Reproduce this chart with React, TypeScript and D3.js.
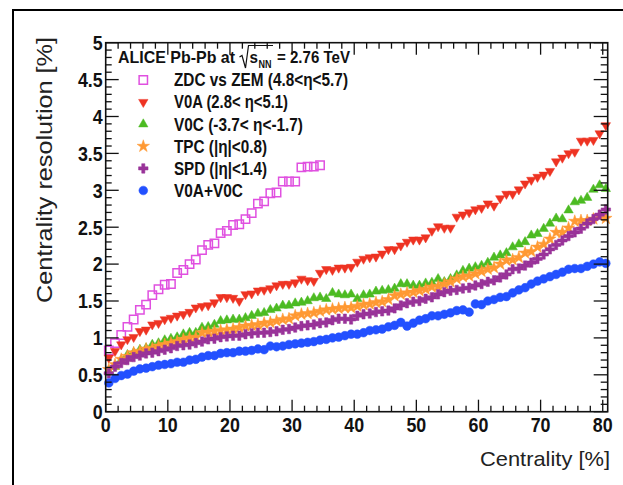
import React from "react";
import * as d3 from "d3";

// ---------------- data ----------------
const centrality: number[] = d3.range(0.5, 81, 1); // bin centres (%)

const zdcZemValues = [
  0.83, 0.93, 1.04, 1.15, 1.25, 1.38, 1.45, 1.58, 1.66, 1.72,
  1.73, 1.88, 1.92, 2.0, 2.06, 2.19, 2.26, 2.28, 2.42, 2.45,
  2.53, 2.54, 2.61, 2.69, 2.82, 2.85, 2.96, 2.97, 3.12, 3.12,
  3.12, 3.31, 3.32, 3.32, 3.34,
];

const v0aValues = [
  0.73, 0.82, 0.91, 0.98, 1.01, 1.09, 1.11, 1.18, 1.2, 1.25,
  1.27, 1.3, 1.32, 1.35, 1.41, 1.43, 1.44, 1.48, 1.55, 1.55,
  1.54, 1.5, 1.59, 1.6, 1.64, 1.65, 1.67, 1.71, 1.73, 1.73,
  1.75, 1.8, 1.78, 1.77, 1.88, 1.93, 1.92, 1.95, 1.95, 1.96,
  2.03, 2.07, 2.09, 2.1, 2.14, 2.2, 2.2, 2.25, 2.3, 2.33,
  2.33, 2.36, 2.45, 2.51, 2.49, 2.49, 2.64, 2.67, 2.7, 2.74,
  2.76, 2.82, 2.79, 2.89, 2.95, 2.95, 3.01, 3.09, 3.14, 3.18,
  3.21, 3.26, 3.39, 3.44, 3.5, 3.52, 3.67, 3.67, 3.68, 3.77,
  3.88,
];

const v0cValues = [
  0.55, 0.61, 0.7, 0.77, 0.8, 0.84, 0.86, 0.91, 0.93, 0.97,
  0.99, 1.01, 1.05, 1.07, 1.07, 1.14, 1.15, 1.18, 1.23, 1.24,
  1.25, 1.25, 1.27, 1.3, 1.33, 1.34, 1.38, 1.4, 1.44, 1.44,
  1.47, 1.48, 1.5, 1.54, 1.55, 1.53, 1.61, 1.59, 1.58, 1.59,
  1.53, 1.58, 1.59, 1.63, 1.64, 1.65, 1.67, 1.73, 1.73, 1.71,
  1.71, 1.74, 1.75, 1.8, 1.76, 1.8, 1.85, 1.91, 1.94, 1.96,
  1.98, 2.02, 2.09, 2.12, 2.15, 2.23, 2.27, 2.3, 2.39, 2.41,
  2.48, 2.55, 2.62, 2.61, 2.73, 2.84, 2.86, 2.9, 3.01, 3.07,
  3.02,
];

const tpcValues = [
  0.57, 0.64, 0.71, 0.75, 0.8, 0.82, 0.85, 0.86, 0.89, 0.91,
  0.93, 0.95, 0.98, 1.0, 1.01, 1.07, 1.08, 1.09, 1.1, 1.11,
  1.12, 1.14, 1.16, 1.17, 1.18, 1.2, 1.21, 1.23, 1.25, 1.26,
  1.3, 1.32, 1.33, 1.34, 1.36, 1.38, 1.39, 1.4, 1.41, 1.41,
  1.43, 1.45, 1.46, 1.48, 1.49, 1.52, 1.57, 1.59, 1.61, 1.62,
  1.64, 1.66, 1.69, 1.7, 1.73, 1.76, 1.8, 1.83, 1.84, 1.87,
  1.9, 1.93, 1.95, 2.0, 2.05, 2.06, 2.09, 2.15, 2.17, 2.23,
  2.27, 2.34, 2.43, 2.43, 2.49, 2.58, 2.59, 2.59, 2.61, 2.65,
  2.62,
];

const spdValues = [
  0.52, 0.61, 0.66, 0.7, 0.74, 0.76, 0.79, 0.8, 0.82, 0.84,
  0.86, 0.89, 0.9, 0.91, 0.93, 0.95, 0.98, 0.99, 1.01, 1.02,
  1.03, 1.03, 1.05, 1.06, 1.07, 1.07, 1.08, 1.09, 1.11, 1.12,
  1.14, 1.16, 1.17, 1.18, 1.2, 1.21, 1.24, 1.26, 1.26, 1.25,
  1.3, 1.32, 1.33, 1.35, 1.36, 1.37, 1.4, 1.44, 1.47, 1.49,
  1.5, 1.53, 1.55, 1.59, 1.62, 1.64, 1.65, 1.67, 1.68, 1.71,
  1.73, 1.76, 1.78, 1.82, 1.86, 1.93, 1.94, 1.98, 2.02, 2.07,
  2.13, 2.2, 2.26, 2.32, 2.38, 2.43, 2.48, 2.55, 2.61, 2.67,
  2.74,
];

const v0av0cValues = [
  0.39, 0.45, 0.49, 0.51, 0.55, 0.58, 0.59, 0.61, 0.63, 0.64,
  0.65, 0.67, 0.67, 0.7, 0.71, 0.74, 0.76, 0.76, 0.79, 0.8,
  0.8, 0.82, 0.82, 0.83, 0.85, 0.84, 0.89, 0.88, 0.89, 0.91,
  0.92, 0.93, 0.94, 0.95, 0.97, 0.98, 1.0, 1.01, 1.03, 1.05,
  1.05, 1.07, 1.1, 1.11, 1.12, 1.15, 1.17, 1.21, 1.16, 1.2,
  1.24, 1.26, 1.3, 1.3, 1.32, 1.34, 1.37, 1.38, 1.35, 1.46,
  1.45, 1.5, 1.52, 1.55, 1.56, 1.61, 1.65, 1.68, 1.73, 1.77,
  1.8, 1.83, 1.86, 1.89, 1.93, 1.94, 1.94, 1.97, 2.0, 2.03,
  2.01,
];

const xMajorTicks = [0, 10, 20, 30, 40, 50, 60, 70, 80];
const xTickLabels = ["0", "10", "20", "30", "40", "50", "60", "70", "80"];
const yMajorTicks = [0, 0.5, 1, 1.5, 2, 2.5, 3, 3.5, 4, 4.5, 5];
const yTickLabels = ["0", "0.5", "1", "1.5", "2", "2.5", "3", "3.5", "4", "4.5", "5"];

const legendLabels = [
  "ZDC vs ZEM (4.8<\u03b7<5.7)",
  "V0A (2.8< \u03b7<5.1)",
  "V0C (-3.7< \u03b7<-1.7)",
  "TPC (|\u03b7|<0.8)",
  "SPD (|\u03b7|<1.4)",
  "V0A+V0C",
];
const legendTextLengths = [174, 114, 129, 93, 93, 69];

const xTitle = "Centrality [%]";
const yTitle = "Centrality resolution [%]";

// ---------------- styling ----------------
const FONT = "'Liberation Sans', Arial, Helvetica, sans-serif";
const W = 623;
const H = 485;
const PL = 105.7;
const PR = 607.7;
const PT = 42.7;
const PB = 411.7;

type Series = {
  values: number[];
  color: string;
  symbol: d3.SymbolType;
  size: number;
  filled: boolean;
  rotate: number;
};

const series: Series[] = [
  { values: zdcZemValues, color: "#e050e0", symbol: d3.symbolSquare, size: 70, filled: false, rotate: 0 },
  { values: v0aValues, color: "#ee3322", symbol: d3.symbolTriangle, size: 38, filled: true, rotate: 180 },
  { values: v0cValues, color: "#4cbb22", symbol: d3.symbolTriangle, size: 38, filled: true, rotate: 0 },
  { values: tpcValues, color: "#ff9933", symbol: d3.symbolStar, size: 48, filled: true, rotate: 0 },
  { values: spdValues, color: "#993399", symbol: d3.symbolCross, size: 50, filled: true, rotate: 0 },
  { values: v0av0cValues, color: "#2250ff", symbol: d3.symbolCircle, size: 60, filled: true, rotate: 0 },
];

export default function App() {
  const x = d3.scaleLinear().domain([0, 80.8]).range([PL, PR]);
  const y = d3.scaleLinear().domain([0, 5]).range([PB, PT]);

  const xMinor = d3.range(0, 81, 2).filter((v) => v % 10 !== 0);
  const yMinor = d3.range(0, 51, 1).map((v) => v / 10).filter((v) => Math.round(v * 10) % 5 !== 0);

  const axisColor = "#111";
  const majL = 12;
  const minL = 6;

  const legendX = 143.3;
  const legendTextX = 174;
  const legendY0 = 80;
  const legendDy = 22.1;

  const sym = (s: Series) => d3.symbol().type(s.symbol).size(s.size)() as string;

  return (
    <svg
      width={W}
      height={H}
      viewBox={`0 0 ${W} ${H}`}
      style={{ position: "absolute", left: 0, top: 0, display: "block", background: "#fff" }}
    >
      <rect x={0} y={0} width={W} height={H} fill="#fff" />
      {/* outer frame */}
      <rect x={13} y={10} width={W + 50} height={H + 50} fill="none" stroke="#000" strokeWidth={2} />

      {/* data markers */}
      {series.map((s, si) => (
        <g key={si}>
          {s.values.map((v, i) => (
            <path
              key={i}
              d={sym(s)}
              transform={`translate(${x(centrality[i])},${y(v)}) rotate(${s.rotate})`}
              fill={s.filled ? s.color : "none"}
              stroke={s.color}
              strokeWidth={s.filled ? 0.5 : 1.5}
            />
          ))}
        </g>
      ))}

      {/* frame / axes */}
      <rect x={PL} y={PT} width={PR - PL} height={PB - PT} fill="none" stroke={axisColor} strokeWidth={1.6} />
      {xMajorTicks.map((t) => (
        <g key={"xm" + t}>
          <line x1={x(t)} x2={x(t)} y1={PB} y2={PB - majL} stroke={axisColor} strokeWidth={1.3} />
          <line x1={x(t)} x2={x(t)} y1={PT} y2={PT + majL} stroke={axisColor} strokeWidth={1.3} />
        </g>
      ))}
      {xMinor.map((t) => (
        <g key={"xn" + t}>
          <line x1={x(t)} x2={x(t)} y1={PB} y2={PB - minL} stroke={axisColor} strokeWidth={1.3} />
          <line x1={x(t)} x2={x(t)} y1={PT} y2={PT + minL} stroke={axisColor} strokeWidth={1.3} />
        </g>
      ))}
      {yMajorTicks.map((t) => (
        <g key={"ym" + t}>
          <line x1={PL} x2={PL + majL + 1} y1={y(t)} y2={y(t)} stroke={axisColor} strokeWidth={1.3} />
          <line x1={PR} x2={PR - majL - 2} y1={y(t)} y2={y(t)} stroke={axisColor} strokeWidth={1.3} />
        </g>
      ))}
      {yMinor.map((t) => (
        <g key={"yn" + t}>
          <line x1={PL} x2={PL + minL} y1={y(t)} y2={y(t)} stroke={axisColor} strokeWidth={1.3} />
          <line x1={PR} x2={PR - minL - 1} y1={y(t)} y2={y(t)} stroke={axisColor} strokeWidth={1.3} />
        </g>
      ))}

      {/* tick labels */}
      {xMajorTicks.map((t, i) => (
        <text
          key={"xl" + t}
          transform={`translate(${x(t)},${432}) scale(0.87,1)`}
          textAnchor="middle"
          fontFamily={FONT}
          fontWeight="bold"
          fontSize={20.5}
          fill="#111"
        >
          {xTickLabels[i]}
        </text>
      ))}
      {yMajorTicks.map((t, i) => (
        <text
          key={"yl" + t}
          transform={`translate(${102.7},${y(t) + 7.3}) scale(0.87,1)`}
          textAnchor="end"
          fontFamily={FONT}
          fontWeight="bold"
          fontSize={20.5}
          fill="#111"
        >
          {yTickLabels[i]}
        </text>
      ))}

      {/* axis titles */}
      <text
        x={610}
        y={465.5}
        textAnchor="end"
        fontFamily={FONT}
        fontSize={21}
        fill="#222"
        textLength={130}
        lengthAdjust="spacingAndGlyphs"
      >
        {xTitle}
      </text>
      <text
        transform={`translate(${52},${37}) rotate(-90)`}
        textAnchor="end"
        fontFamily={FONT}
        fontSize={22}
        fill="#222"
        textLength={266}
        lengthAdjust="spacingAndGlyphs"
      >
        {yTitle}
      </text>

      {/* header */}
      <g fontFamily={FONT} fontWeight="bold" fill="#111">
        <text x={118} y={62.7} fontSize={17} textLength={117} lengthAdjust="spacingAndGlyphs">
          ALICE Pb-Pb at
        </text>
        <path d="M 239.5 57 L 242 55.5 L 245.5 68 L 248.5 45.5 L 273 45.5" fill="none" stroke="#111" strokeWidth={1.2} />
        <text x={249.5} y={62.7} fontSize={17} textLength={8.5} lengthAdjust="spacingAndGlyphs">
          s
        </text>
        <text x={258.5} y={67.5} fontSize={10} textLength={13} lengthAdjust="spacingAndGlyphs">
          NN
        </text>
        <text x={277} y={62.7} fontSize={17} textLength={73} lengthAdjust="spacingAndGlyphs">
          = 2.76 TeV
        </text>
      </g>

      {/* legend */}
      {series.map((s, i) => (
        <g key={"lg" + i}>
          <path
            d={sym(s)}
            transform={`translate(${legendX},${legendY0 + i * legendDy}) rotate(${s.rotate})`}
            fill={s.filled ? s.color : "none"}
            stroke={s.color}
            strokeWidth={s.filled ? 0.5 : 1.5}
          />
          <text
            x={legendTextX}
            y={legendY0 + i * legendDy + 6.3}
            fontFamily={FONT}
            fontWeight="bold"
            fontSize={17.5}
            fill="#111"
            textLength={legendTextLengths[i]}
            lengthAdjust="spacingAndGlyphs"
          >
            {legendLabels[i]}
          </text>
        </g>
      ))}
    </svg>
  );
}
